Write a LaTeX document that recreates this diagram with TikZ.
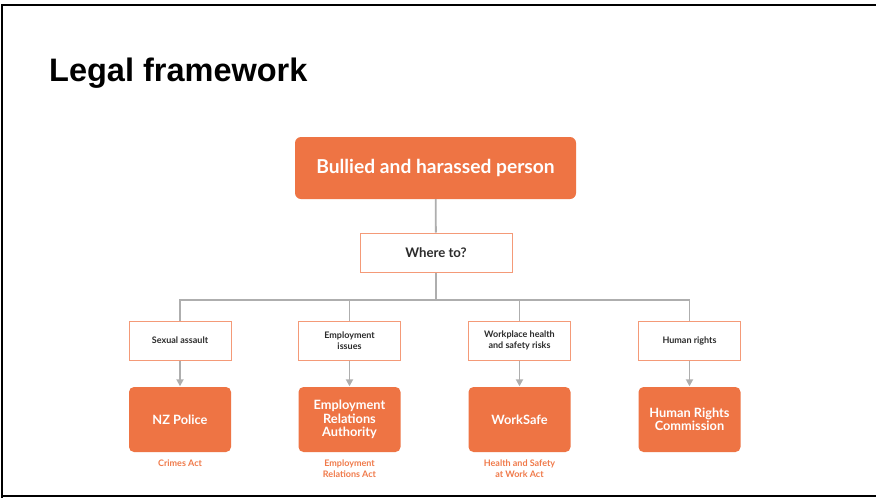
\documentclass[tikz,border=0pt]{standalone}
\usepackage{fontspec}
\setmainfont{Lato}
\newfontfamily\titlefont{Liberation Sans}
\usetikzlibrary{arrows.meta}
\definecolor{org}{HTML}{EE7444}
\definecolor{orgline}{HTML}{F49A78}
\definecolor{orgtext}{HTML}{F07A4A}
\definecolor{conn}{HTML}{AEAEAE}
\definecolor{dark}{HTML}{2B2B2B}
\tikzset{
  bigbox/.style={fill=org, rounded corners=6pt, text=white, font=\bfseries\fontsize{19.2}{22}\selectfont, align=center, minimum width=281pt, minimum height=62pt, inner sep=0pt},
  wherebox/.style={draw=orgline, line width=1pt, fill=white, text=dark, font=\bfseries\fontsize{13.2}{15}\selectfont, align=center, minimum width=152pt, minimum height=39pt, inner sep=0pt},
  catbox/.style={draw=orgline, line width=1pt, fill=white, text=dark, font=\bfseries\fontsize{9}{11}\selectfont, align=center, minimum width=102pt, minimum height=39pt, inner sep=0pt},
  agency/.style={fill=org, rounded corners=5pt, text=white, font=\bfseries\fontsize{12.8}{13.3}\selectfont, align=center, minimum width=102pt, minimum height=65pt, inner sep=0pt},
  actlabel/.style={text=orgtext, font=\bfseries\fontsize{9}{11}\selectfont, align=center, anchor=north, inner sep=0pt},
  link/.style={draw=conn, line width=1.8pt},
  arrowlink/.style={link, -{Triangle[width=7pt,length=7pt]}, shorten >=0.5pt},
}
\begin{document}
\begin{tikzpicture}[x=1pt,y=-1pt]
\useasboundingbox (0,0) rectangle (876,498);
\fill[white] (0,0) rectangle (876,498);
\draw[line width=2.5pt] (2,498) -- (2,5) -- (876,5);
\draw[line width=2pt] (2,496) -- (876,496);

\node[anchor=base west, inner sep=0pt, font=\titlefont\bfseries\fontsize{32.5}{36}\selectfont] (title) at (49,81) {Legal framework};

\node[bigbox] (top) at (435.5,168) {Bullied and harassed person};
\node[wherebox] (where) at (436,252.5) {Where to?};
\coordinate (bus) at (436,300);

\node[catbox] (c1) at (180,340.5) {Sexual assault};
\node[catbox] (c2) at (349.5,340.5) {Employment\\issues};
\node[catbox] (c3) at (519.5,340.5) {Workplace health\\and safety risks};
\node[catbox] (c4) at (689.5,340.5) {Human rights};

\node[agency] (a1) at (180,419.5) {NZ Police};
\node[agency] (a2) at (349.5,419.5) {Employment\\Relations\\Authority};
\node[agency] (a3) at (519.5,419.5) {WorkSafe};
\node[agency] (a4) at (689.5,419.5) {Human Rights\\Commission};

\node[actlabel] (l1) at (180,459.5) {Crimes Act};
\node[actlabel] (l2) at (349.5,459.5) {Employment\\Relations Act};
\node[actlabel] (l3) at (519.5,459.5) {Health and Safety\\at Work Act};

\draw[link] (top) -- (where);
\draw[link] (where) -- (bus);
\draw[link] (c1.north) -- (c1.north |- bus) -- (c4.north |- bus) -- (c4.north);
\draw[link] (c2.north) -- (c2.north |- bus);
\draw[link] (c3.north) -- (c3.north |- bus);

\draw[arrowlink] (c1) -- (a1);
\draw[arrowlink] (c2) -- (a2);
\draw[arrowlink] (c3) -- (a3);
\draw[arrowlink] (c4) -- (a4);
\end{tikzpicture}
\end{document}
